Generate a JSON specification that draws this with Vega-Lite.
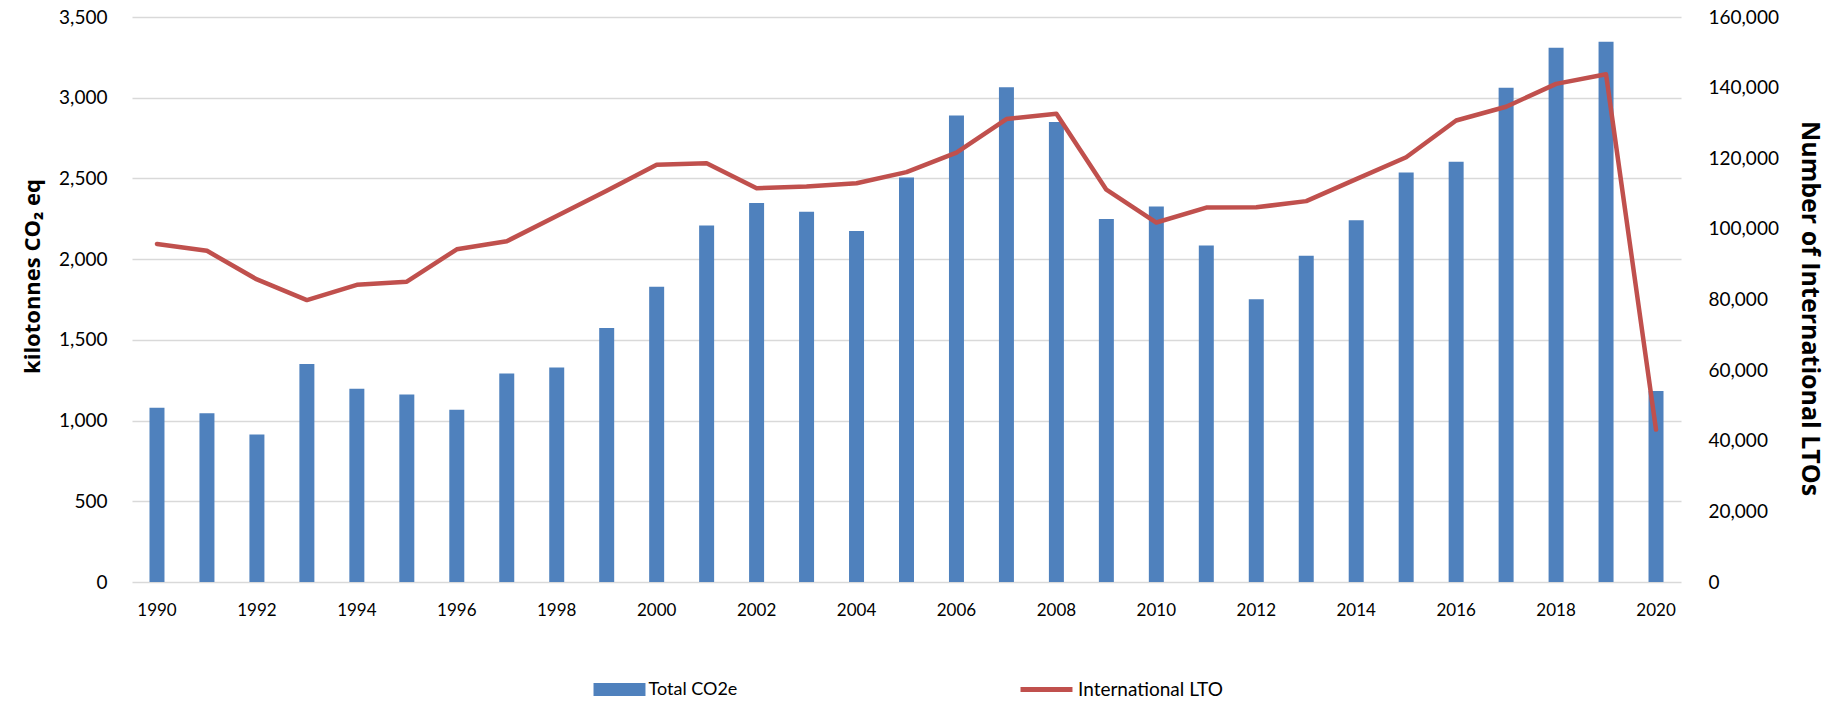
{
  "$schema": "https://vega.github.io/schema/vega-lite/v6.json",
  "autosize": {"type": "none"},
  "width": 1549,
  "height": 565,
  "padding": {"left": 132, "top": 17, "right": 156, "bottom": 120},
  "background": "white",
  "config": {
    "font": "Lato",
    "view": {"stroke": null},
    "axis": {"labelFont": "Lato", "titleFont": "Open Sans", "labelColor": "#000000", "titleColor": "#000000"},
    "legend": {
      "layout": {"bottom": {"anchor": "middle", "direction": "horizontal", "margin": 278}}
    }
  },
  "data": {
    "values": [
      {"year": 1990, "co2": 1079, "lto": 95740},
      {"year": 1991, "co2": 1046, "lto": 93790},
      {"year": 1992, "co2": 913, "lto": 85680},
      {"year": 1993, "co2": 1351, "lto": 79840},
      {"year": 1994, "co2": 1197, "lto": 84160},
      {"year": 1995, "co2": 1162, "lto": 85030},
      {"year": 1996, "co2": 1067, "lto": 94220},
      {"year": 1997, "co2": 1292, "lto": 96490},
      {"year": 1998, "co2": 1328, "lto": 103630},
      {"year": 1999, "co2": 1574, "lto": 110830},
      {"year": 2000, "co2": 1829, "lto": 118130},
      {"year": 2001, "co2": 2208, "lto": 118560},
      {"year": 2002, "co2": 2348, "lto": 111530},
      {"year": 2003, "co2": 2293, "lto": 111970},
      {"year": 2004, "co2": 2175, "lto": 112940},
      {"year": 2005, "co2": 2506, "lto": 116080},
      {"year": 2006, "co2": 2890, "lto": 121600},
      {"year": 2007, "co2": 3065, "lto": 131110},
      {"year": 2008, "co2": 2849, "lto": 132630},
      {"year": 2009, "co2": 2248, "lto": 111100},
      {"year": 2010, "co2": 2326, "lto": 101800},
      {"year": 2011, "co2": 2085, "lto": 106020},
      {"year": 2012, "co2": 1751, "lto": 106100},
      {"year": 2013, "co2": 2021, "lto": 107860},
      {"year": 2014, "co2": 2241, "lto": 114080},
      {"year": 2015, "co2": 2537, "lto": 120300},
      {"year": 2016, "co2": 2603, "lto": 130680},
      {"year": 2017, "co2": 3062, "lto": 134580},
      {"year": 2018, "co2": 3310, "lto": 141070},
      {"year": 2019, "co2": 3346, "lto": 143770},
      {"year": 2020, "co2": 1183, "lto": 43160}
    ]
  },
  "encoding": {
    "x": {
      "field": "year",
      "type": "ordinal",
      "scale": {"paddingInner": 0.7, "paddingOuter": 0.35},
      "axis": {
        "title": null,
        "values": [1990, 1992, 1994, 1996, 1998, 2000, 2002, 2004, 2006, 2008, 2010, 2012, 2014, 2016, 2018, 2020],
        "labelAngle": 0,
        "labelFontSize": 17,
        "labelPadding": 20,
        "ticks": false,
        "domain": false,
        "grid": false
      }
    }
  },
  "layer": [
    {
      "mark": {"type": "bar"},
      "encoding": {
        "y": {
          "field": "co2",
          "type": "quantitative",
          "scale": {"domain": [0, 3500], "nice": false},
          "axis": {
            "title": "kilotonnes CO₂ eq",
            "titleFontSize": 22,
            "titleFontWeight": "bold",
            "titlePadding": 14,
            "titleY": 259,
            "values": [0, 500, 1000, 1500, 2000, 2500, 3000, 3500],
            "format": ",d",
            "labelFontSize": 19,
            "labelPadding": 25,
            "ticks": false,
            "domain": false,
            "grid": true,
            "gridColor": "#D9D9D9",
            "gridWidth": 1.5
          }
        },
        "fill": {
          "datum": "Total CO2e",
          "scale": {"range": ["#4F81BD"]},
          "legend": {
            "title": null,
            "orient": "bottom",
            "offset": 43,
            "padding": 2.5,
            "symbolType": "M-1,-0.25H1V0.25H-1Z",
            "symbolSize": 2700,
            "symbolStrokeWidth": 0,
            "labelFontSize": 18,
            "labelColor": "#000000",
            "labelOffset": 3
          }
        }
      }
    },
    {
      "mark": {"type": "line", "strokeWidth": 4.5, "strokeCap": "round", "strokeJoin": "round"},
      "encoding": {
        "y": {
          "field": "lto",
          "type": "quantitative",
          "scale": {"domain": [0, 160000], "nice": false},
          "axis": {
            "orient": "right",
            "title": "Number of International LTOs",
            "titleFontSize": 25,
            "titleFontWeight": "bold",
            "titlePadding": 18,
            "titleY": 291,
            "values": [0, 20000, 40000, 60000, 80000, 100000, 120000, 140000, 160000],
            "format": ",d",
            "labelFontSize": 19,
            "labelPadding": 27,
            "ticks": false,
            "domain": false,
            "grid": false
          }
        },
        "stroke": {
          "datum": "International LTO",
          "scale": {"range": ["#C0504D"]},
          "legend": {
            "title": null,
            "orient": "bottom",
            "offset": 43,
            "symbolType": "stroke",
            "symbolSize": 2700,
            "symbolStrokeWidth": 5,
            "labelFontSize": 19,
            "labelColor": "#000000",
            "labelOffset": 3
          }
        }
      }
    }
  ],
  "resolve": {"scale": {"y": "independent"}}
}
